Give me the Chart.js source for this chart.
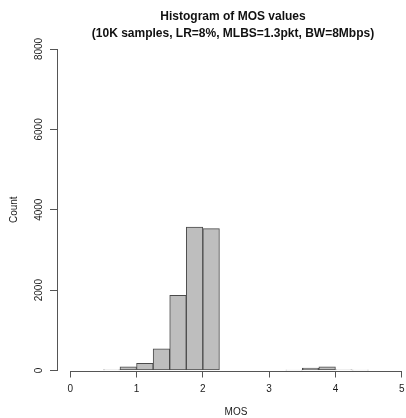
<!DOCTYPE html>
<html lang="en">
<head>
<meta charset="UTF-8">
<title>Histogram of MOS values</title>
<script src="https://cdn.jsdelivr.net/npm/chart.js"></script>
<style>
  html, body {
    margin: 0;
    padding: 0;
    background: #fff;
    overflow: hidden;
  }
  .wrap {
    position: relative;
    width: 420px;
    height: 418px;
  }
  .title {
    position: absolute;
    top: 8px;
    left: 52px;
    width: 362px;
    text-align: center;
    font-family: "Liberation Sans", Arial, sans-serif;
    font-weight: bold;
    font-size: 12px;
    line-height: 17px;
    color: #111;
  }
</style>
</head>
<body>

<div class="wrap">
  <canvas id="histChart" width="420" height="418"></canvas>
  <div class="title">Histogram of MOS values<br>(10K samples, LR=8%, MLBS=1.3pkt, BW=8Mbps)</div>
</div>

<script>
// left edge of each 0.25-wide bin and its count
const binWidth = 0.25;
const binStarts = [0.5, 0.75, 1.0, 1.25, 1.5, 1.75, 2.0, 3.25, 3.5, 3.75, 4.0, 4.25];
const counts = [15, 90, 180, 540, 1870, 3570, 3530, 10, 60, 90, 15, 8];
const xTicks = [0, 1, 2, 3, 4, 5];
const yTicks = [0, 2000, 4000, 6000, 8000];

const axisFont = { family: '"Liberation Sans", Arial, sans-serif', size: 10 };
const ink = '#1a1a1a';
const axisGray = '#555';

// R draws the x axis only from the first to the last tick
const xAxisLine = {
  id: 'xAxisLine',
  afterDatasetsDraw(chart) {
    const { ctx, scales: { x, y } } = chart;
    const yb = Math.round(y.getPixelForValue(0)) + 0.5;
    ctx.save();
    ctx.strokeStyle = axisGray;
    ctx.lineWidth = 1;
    ctx.beginPath();
    ctx.moveTo(x.getPixelForValue(xTicks[0]), yb);
    ctx.lineTo(x.getPixelForValue(xTicks[xTicks.length - 1]), yb);
    ctx.stroke();
    ctx.restore();
  }
};

const ctx = document.getElementById('histChart').getContext('2d');
new Chart(ctx, {
  type: 'bar',
  data: {
    datasets: [{
      label: 'Count',
      data: binStarts.map((s, i) => ({ x: s + binWidth / 2, y: counts[i] })),
      backgroundColor: '#bebebe',
      borderColor: '#4a4a4a',
      borderWidth: 1,
      borderSkipped: false,
      barPercentage: 1,
      categoryPercentage: 1
    }]
  },
  options: {
    responsive: false,
    animation: false,
    layout: { padding: { top: 49, right: 5, left: 0, bottom: 0 } },
    plugins: {
      legend: { display: false },
      tooltip: { enabled: false }
    },
    scales: {
      x: {
        type: 'linear',
        min: -0.2,
        max: 5.2,
        offset: false,
        afterBuildTicks: s => { s.ticks = xTicks.map(v => ({ value: v })); },
        afterFit: s => { s.height = 47.5; },
        grid: { offset: false, drawOnChartArea: false, drawTicks: true, tickLength: 7, color: axisGray },
        border: { display: false },
        ticks: { font: axisFont, color: ink, padding: 6, maxRotation: 0, callback: v => String(v) },
        title: { display: true, text: 'MOS', font: axisFont, color: ink, padding: { top: 0, bottom: 0 } }
      },
      y: {
        min: 0,
        max: 8000,
        afterBuildTicks: s => { s.ticks = yTicks.map(v => ({ value: v })); },
        afterFit: s => { s.width = 57; },
        grid: { drawOnChartArea: false, drawTicks: true, tickLength: 7, color: axisGray },
        border: { display: true, color: axisGray },
        ticks: {
          font: axisFont, color: ink, padding: 0,
          minRotation: 90, maxRotation: 90, crossAlign: 'center',
          callback: v => String(v)
        },
        title: { display: true, text: 'Count', font: axisFont, color: ink, padding: { top: 8, bottom: 0 } }
      }
    }
  },
  plugins: [xAxisLine]
});
</script>

</body>
</html>
